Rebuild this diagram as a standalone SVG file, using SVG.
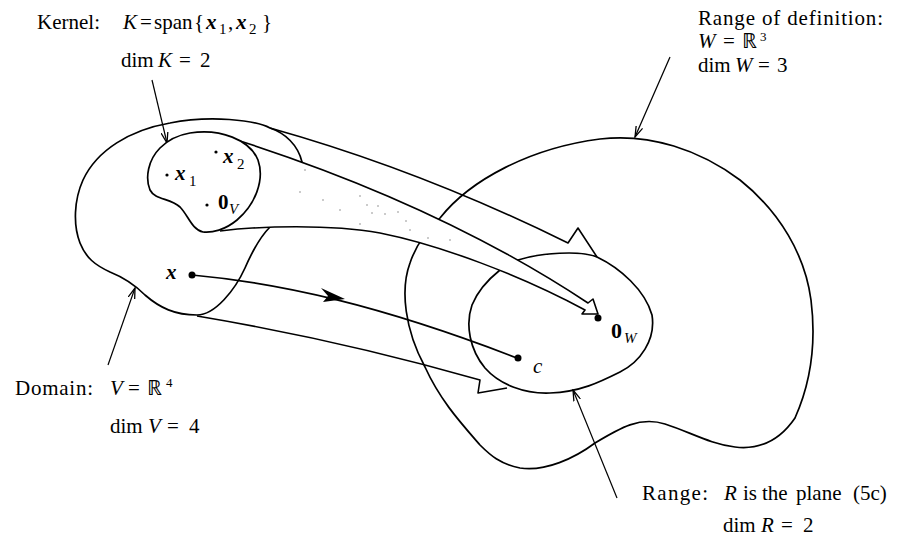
<svg xmlns="http://www.w3.org/2000/svg" width="910" height="547" viewBox="0 0 910 547">
<style>
text{font-family:"Liberation Serif","Times New Roman",serif;font-size:21px;fill:#000}
.it{font-style:italic}
.bi{font-style:italic;font-weight:bold}
.b{font-weight:bold}
.sub{font-size:15px}
.sup{font-size:13px}
.ln{fill:none;stroke:#000;stroke-width:1.6;stroke-linejoin:round}
.ptr{fill:none;stroke:#000;stroke-width:1.2}
.reg{fill:none;stroke:#000;stroke-width:1.7}
.wh{fill:#fff;stroke:none}
.sp{fill:#888}
</style>
<defs>
<marker id="ah" viewBox="0 0 12 8" refX="11" refY="4" markerWidth="12" markerHeight="8" markerUnits="userSpaceOnUse" orient="auto">
<path d="M0,0.5 L11,4 L0,7.5" fill="none" stroke="#000" stroke-width="1.3"/>
</marker>
</defs>

<g id="regionW">
<path class="reg" d="M440,218 C470,180 530,148 600,139 C650,133 700,150 740,180 C780,212 805,255 811,300 C816,340 812,380 795,418 C780,440 760,450 735,447 C710,444 690,432 665,424 C640,416 620,428 595,443 C575,458 545,472 520,468 C500,464 490,455 480,445 C460,422 440,400 425,367 C405,330 400,290 410,263 C415,248 425,232 440,218 Z"/>
</g>
<g id="rangeR">
<path class="reg" d="M518,260 C540,253 580,250 597,257 C620,268 645,290 652,315 C656,340 640,362 620,372 C600,382 580,392 550,393 C525,394 500,385 485,368 C470,350 465,325 472,305 C478,290 490,278 500,270 Z"/>
</g>
<g id="domainV">
<path class="reg" d="M270,128 C255,120 210,115 170,123 C130,130 97,150 83,180 C74,200 73,225 80,243 C86,258 95,265 110,272 C125,278 135,285 145,295 C160,308 175,315 197,315 C215,315 235,290 245,268 C255,245 262,235 270,227 C285,210 305,185 302,162 C298,145 285,133 270,128 Z"/>
</g>

<g id="connectors">
<path class="ln" d="M270,128 Q420,170 568,243 L578,228 L597,257"/>
<path class="ln" d="M197,316 Q340,340 480,380 L478,393 L507,388"/>
<path class="wh" d="M237,140 Q440,205 588,303 L593,299 L598,314 L582,314 L585,310 C520,275 440,245 380,233 C330,224 260,226 215,232 Z"/>
<g class="sp">
<circle cx="300" cy="192" r="0.8"/><circle cx="323" cy="200" r="0.8"/><circle cx="340" cy="210" r="0.8"/>
<circle cx="360" cy="196" r="0.8"/><circle cx="367" cy="205" r="0.8"/><circle cx="372" cy="213" r="0.8"/>
<circle cx="378" cy="206" r="0.8"/><circle cx="385" cy="214" r="0.8"/><circle cx="398" cy="212" r="0.8"/>
<circle cx="406" cy="221" r="0.8"/><circle cx="360" cy="224" r="0.8"/><circle cx="428" cy="238" r="0.8"/>
<circle cx="305" cy="170" r="0.8"/><circle cx="410" cy="230" r="0.8"/><circle cx="450" cy="240" r="0.8"/>
</g>
<path class="ln" d="M237,140 Q440,205 588,303 L593,299 L598,314 L582,314 L585,310 C520,275 440,245 380,233 C330,224 260,226 220,231"/>
<path class="ln" d="M192,275 C280,283 380,305 517,358"/>
<path d="M345,299 L321,288 L328,296 L323,302 Z" fill="#000"/>
<line class="ptr" x1="152" y1="80" x2="167" y2="143" marker-end="url(#ah)"/>
<line class="ptr" x1="670" y1="57" x2="635" y2="137" marker-end="url(#ah)"/>
<line class="ptr" x1="108" y1="365" x2="135" y2="288" marker-end="url(#ah)"/>
<line class="ptr" x1="617" y1="498" x2="573" y2="390" marker-end="url(#ah)"/>
</g>

<g id="kernelK">
<path class="reg" style="fill:#fff" d="M190,133 C220,128 250,140 258,160 C265,180 255,205 237,220 C225,230 212,233 203,232 C192,230 188,215 180,207 C170,198 155,200 150,190 C145,178 148,160 160,148 C168,140 178,135 190,133 Z"/>
<circle cx="167" cy="175" r="1.6"/>
<circle cx="216" cy="152" r="1.6"/>
<circle cx="207" cy="205" r="1.6"/>
<text y="180"><tspan x="175" class="bi">x</tspan><tspan x="189" dy="6" class="sub">1</tspan></text>
<text y="163"><tspan x="223" class="bi">x</tspan><tspan x="237" dy="6" class="sub">2</tspan></text>
<text y="209"><tspan x="218" class="b">0</tspan><tspan x="229" dy="5" class="sub it">V</tspan></text>
</g>

<g id="points">
<circle cx="192" cy="275" r="3.5"/>
<text x="166" y="279" class="bi">x</text>
<circle cx="518" cy="358" r="3.5"/>
<text x="533" y="373" class="it">c</text>
<circle cx="598" cy="318" r="3.5"/>
<text y="338"><tspan x="611" class="b" font-size="22">0</tspan><tspan x="624" dy="5" class="sub it">W</tspan></text>
</g>

<g id="labels">
<text x="37" y="29">Kernel:</text>
<text y="29"><tspan x="123" class="it">K</tspan><tspan x="140">=</tspan><tspan x="154">span</tspan><tspan x="194">{</tspan><tspan x="206" class="bi">x</tspan><tspan x="219" dy="5" class="sub">1</tspan><tspan x="228" dy="-5">,</tspan><tspan x="236" class="bi">x</tspan><tspan x="249" dy="5" class="sub">2</tspan><tspan x="262" dy="-5">}</tspan></text>
<text y="67"><tspan x="121">dim</tspan><tspan x="158" class="it">K</tspan><tspan x="179">=</tspan><tspan x="200">2</tspan></text>

<text x="698" y="25" textLength="185" lengthAdjust="spacing">Range of definition:</text>
<text y="48"><tspan x="698" class="it">W</tspan><tspan x="723">=</tspan><tspan x="742">ℝ</tspan><tspan x="760" dy="-7" class="sup">3</tspan></text>
<text y="72"><tspan x="698">dim</tspan><tspan x="735" class="it">W</tspan><tspan x="758">=</tspan><tspan x="777">3</tspan></text>

<text x="15" y="395" textLength="78" lengthAdjust="spacing">Domain:</text>
<text y="395"><tspan x="110" class="it">V</tspan><tspan x="128">=</tspan><tspan x="147">ℝ</tspan><tspan x="166" dy="-8" class="sup">4</tspan></text>
<text y="433"><tspan x="110">dim</tspan><tspan x="148" class="it">V</tspan><tspan x="167">=</tspan><tspan x="189">4</tspan></text>

<text x="642" y="500" textLength="66" lengthAdjust="spacing">Range:</text>
<text y="500"><tspan x="724" class="it">R</tspan><tspan x="743">is</tspan><tspan x="762">the</tspan><tspan x="796">plane</tspan><tspan x="853">(5c)</tspan></text>
<text y="532"><tspan x="723">dim</tspan><tspan x="761" class="it">R</tspan><tspan x="781">=</tspan><tspan x="803">2</tspan></text>
</g>
</svg>
